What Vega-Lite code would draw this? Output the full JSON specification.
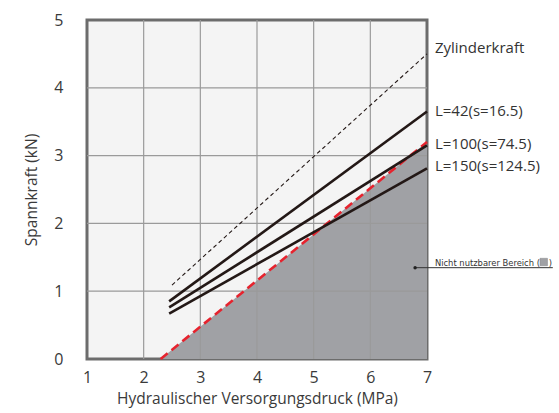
{
  "$schema": "https://vega.github.io/schema/vega-lite/v6.json",
  "width": 340,
  "height": 339,
  "autosize": "none",
  "padding": {"left": 87, "top": 20, "right": 132, "bottom": 54},
  "background": "white",
  "config": {
    "font": "Open Sans",
    "view": {"fill": "#f4f4f4", "stroke": "#6c6c6c", "strokeWidth": 3},
    "axis": {
      "grid": false,
      "ticks": false,
      "domain": false,
      "format": "d",
      "labelFontSize": 16,
      "labelColor": "#3a3a3a",
      "labelFlush": false,
      "labelOverlap": false,
      "titleFontSize": 15.5,
      "titleFontWeight": "normal",
      "titleColor": "#3a3a3a"
    }
  },
  "datasets": {
    "grenze": [
      {"p": 2.3, "f": 0},
      {"p": 7, "f": 3.2}
    ],
    "rasterP": [{"p": 2}, {"p": 3}, {"p": 4}, {"p": 5}, {"p": 6}],
    "rasterF": [{"f": 1}, {"f": 2}, {"f": 3}, {"f": 4}],
    "kurven": [
      {"kurve": "L=42", "p": 2.45, "f": 0.85},
      {"kurve": "L=42", "p": 7, "f": 3.65},
      {"kurve": "L=100", "p": 2.45, "f": 0.76},
      {"kurve": "L=100", "p": 7, "f": 3.15},
      {"kurve": "L=150", "p": 2.45, "f": 0.67},
      {"kurve": "L=150", "p": 7, "f": 2.81}
    ],
    "zylinder": [
      {"p": 2.5, "f": 1.09},
      {"p": 7, "f": 4.5}
    ],
    "beschriftung": [
      {"text": "Zylinderkraft", "p": 7.14, "f": 4.59},
      {"text": "L=42(s=16.5)", "p": 7.14, "f": 3.66},
      {"text": "L=100(s=74.5)", "p": 7.14, "f": 3.17},
      {"text": "L=150(s=124.5)", "p": 7.14, "f": 2.84}
    ],
    "hinweis": [
      {"text": "Nicht nutzbarer Bereich (", "close": ")", "p": 6.79, "p2": 9.22, "f": 1.347, "pt": 7.14, "ft": 1.379, "ps": 9.06, "fs": 1.43, "pk": 9.15}
    ]
  },
  "layer": [
    {
      "data": {"name": "grenze"},
      "mark": {"type": "area", "fill": "#a0a1a5"},
      "encoding": {
        "x": {
          "field": "p",
          "type": "quantitative",
          "scale": {"domain": [1, 7], "nice": false, "zero": false},
          "axis": {"title": "Hydraulischer Versorgungsdruck (MPa)", "values": [1, 2, 3, 4, 5, 6, 7], "labelPadding": 10, "titlePadding": 6}
        },
        "y": {
          "field": "f",
          "type": "quantitative",
          "scale": {"domain": [0, 5], "nice": false},
          "axis": {"title": "Spannkraft (kN)", "values": [0, 1, 2, 3, 4, 5], "labelPadding": 24, "titlePadding": 14}
        },
        "y2": {"datum": 0}
      }
    },
    {
      "data": {"name": "rasterP"},
      "mark": {"type": "rule", "color": "#9a9a9a", "strokeWidth": 1.2},
      "encoding": {"x": {"field": "p", "type": "quantitative"}}
    },
    {
      "data": {"name": "rasterF"},
      "mark": {"type": "rule", "color": "#9a9a9a", "strokeWidth": 1.2},
      "encoding": {"y": {"field": "f", "type": "quantitative"}}
    },
    {
      "data": {"name": "grenze"},
      "mark": {"type": "line", "color": "#e6232e", "strokeWidth": 2.6, "strokeDash": [9, 5]},
      "encoding": {
        "x": {"field": "p", "type": "quantitative"},
        "y": {"field": "f", "type": "quantitative"}
      }
    },
    {
      "data": {"name": "kurven"},
      "mark": {"type": "line", "color": "#231816", "strokeWidth": 2.6},
      "encoding": {
        "x": {"field": "p", "type": "quantitative"},
        "y": {"field": "f", "type": "quantitative"},
        "detail": {"field": "kurve"}
      }
    },
    {
      "data": {"name": "zylinder"},
      "mark": {"type": "line", "color": "#231816", "strokeWidth": 1.1, "strokeDash": [4, 3]},
      "encoding": {
        "x": {"field": "p", "type": "quantitative"},
        "y": {"field": "f", "type": "quantitative"}
      }
    },
    {
      "data": {"name": "beschriftung"},
      "mark": {"type": "text", "align": "left", "baseline": "middle", "fontSize": 15, "color": "#333333"},
      "encoding": {
        "x": {"field": "p", "type": "quantitative"},
        "y": {"field": "f", "type": "quantitative"},
        "text": {"field": "text"}
      }
    },
    {
      "data": {"name": "hinweis"},
      "mark": {"type": "rule", "color": "#333333", "strokeWidth": 1},
      "encoding": {
        "x": {"field": "p", "type": "quantitative"},
        "x2": {"field": "p2"},
        "y": {"field": "f", "type": "quantitative"}
      }
    },
    {
      "data": {"name": "hinweis"},
      "mark": {"type": "point", "filled": true, "color": "#222222", "size": 12, "opacity": 1},
      "encoding": {
        "x": {"field": "p", "type": "quantitative"},
        "y": {"field": "f", "type": "quantitative"}
      }
    },
    {
      "data": {"name": "hinweis"},
      "mark": {"type": "text", "align": "left", "baseline": "alphabetic", "fontSize": 9.3, "font": "DejaVu Sans Condensed", "color": "#333333"},
      "encoding": {
        "x": {"field": "pt", "type": "quantitative"},
        "y": {"field": "ft", "type": "quantitative"},
        "text": {"field": "text"}
      }
    },
    {
      "description": "Grey swatch standing for the unusable area",
      "data": {"name": "hinweis"},
      "mark": {"type": "point", "shape": "square", "filled": true, "fill": "#a0a1a5", "stroke": "#8c8c90", "strokeWidth": 0.6, "size": 55, "opacity": 1},
      "encoding": {
        "x": {"field": "ps", "type": "quantitative"},
        "y": {"field": "fs", "type": "quantitative"}
      }
    },
    {
      "data": {"name": "hinweis"},
      "mark": {"type": "text", "align": "left", "baseline": "alphabetic", "fontSize": 9.3, "font": "DejaVu Sans Condensed", "color": "#333333"},
      "encoding": {
        "x": {"field": "pk", "type": "quantitative"},
        "y": {"field": "ft", "type": "quantitative"},
        "text": {"field": "close"}
      }
    }
  ]
}
